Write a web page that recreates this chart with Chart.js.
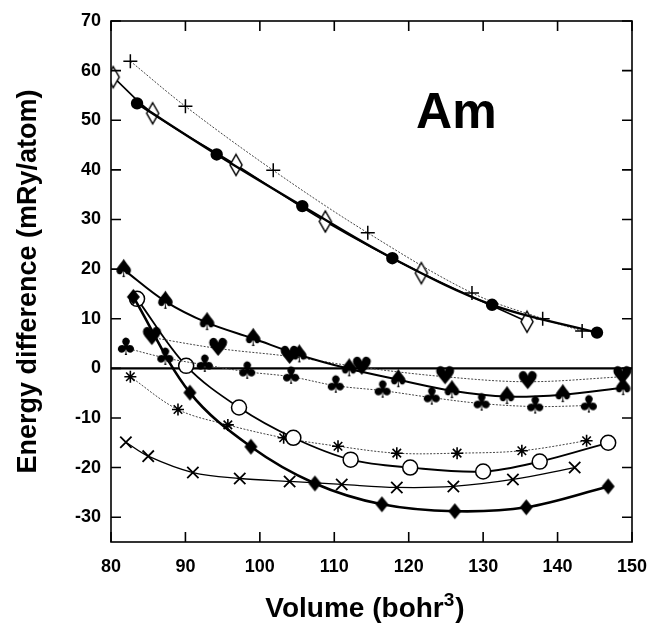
<!DOCTYPE html>
<html>
<head>
<meta charset="utf-8">
<script src="https://cdn.jsdelivr.net/npm/chart.js@4"></script>
<style>
  html, body { margin: 0; padding: 0; background: #fff; }
  canvas { display: block; }
</style>
</head>
<body>
<canvas id="chart" width="650" height="625"></canvas>
<script>
// values
const plusX = [82.6, 90.0, 101.8, 114.5, 128.5, 138.0, 143.3];
const plusY = [61.9, 52.8, 39.9, 27.3, 15.2, 10.0, 7.5];

const dotX = [83.5, 94.2, 105.7, 117.8, 131.2, 145.3];
const dotY = [53.4, 43.1, 32.7, 22.2, 12.8, 7.2];

const openDiaX = [80.3, 85.6, 96.8, 108.8, 121.7, 135.9];
const openDiaY = [58.7, 51.4, 41.0, 29.6, 19.2, 9.4];

const spadeX = [81.7, 87.3, 92.9, 99.1, 105.3, 112.0, 118.6, 125.8, 133.2, 140.7, 148.8];
const spadeY = [19.9, 13.5, 9.2, 6.0, 2.7, -0.1, -2.3, -4.5, -5.7, -5.3, -3.9];

const heartX = [85.5, 94.4, 104.0, 113.7, 124.9, 136.0, 148.7];
const heartY = [6.2, 4.0, 2.4, 0.2, -1.7, -2.7, -1.7];

const clubX = [82.0, 87.3, 92.6, 98.3, 104.2, 110.2, 116.5, 123.1, 129.8, 137.0, 144.2];
const clubY = [4.1, 2.1, 0.7, -0.7, -1.7, -3.5, -4.5, -5.9, -7.1, -7.7, -7.5];

const fillDiaX = [83.0, 90.6, 98.8, 107.4, 116.4, 126.2, 135.8, 146.8];
const fillDiaY = [14.4, -4.9, -15.8, -23.2, -27.4, -28.8, -28.0, -23.8];

const circX = [83.5, 90.1, 97.2, 104.5, 112.2, 120.2, 130.0, 137.6, 146.8];
const circY = [14.0, 0.5, -7.9, -14.0, -18.4, -20.0, -20.8, -18.8, -15.0];

const starX = [82.6, 89.0, 95.7, 103.2, 110.5, 118.4, 126.5, 135.2, 143.9];
const starY = [-1.7, -8.3, -11.4, -14.0, -15.7, -17.1, -17.1, -16.6, -14.6];

const crossX = [82.0, 85.0, 91.0, 97.3, 104.0, 111.0, 118.4, 126.0, 134.0, 142.3];
const crossY = [-14.9, -17.7, -21.0, -22.2, -22.8, -23.4, -24.0, -23.8, -22.4, -20.0];

const xTicks = [80, 90, 100, 110, 120, 130, 140, 150];
const yTicks = [70, 60, 50, 40, 30, 20, 10, 0, -10, -20, -30];

const elementLabel = "Am";
const xTitle = ["Volume (bohr", "3", ")"];
const yTitle = "Energy difference (mRy/atom)";

const pts = (xs, ys) => xs.map((x, i) => ({ x, y: ys[i] }));

// marker images
function glyph(ch, size) {
  const c = document.createElement("canvas");
  c.width = size + 4;
  c.height = size + 4;
  const g = c.getContext("2d");
  g.font = `${size}px "DejaVu Sans"`;
  g.textAlign = "center";
  g.textBaseline = "middle";
  g.fillStyle = "#000";
  g.fillText(ch, c.width / 2, c.height / 2 + 1);
  return c;
}

function diamond(w, h, filled) {
  const c = document.createElement("canvas");
  c.width = w + 4;
  c.height = h + 4;
  const g = c.getContext("2d");
  const cx = c.width / 2, cy = c.height / 2;
  g.beginPath();
  g.moveTo(cx, cy - h / 2);
  g.lineTo(cx + w / 2, cy);
  g.lineTo(cx, cy + h / 2);
  g.lineTo(cx - w / 2, cy);
  g.closePath();
  if (filled) {
    g.fillStyle = "#000";
    g.fill();
  } else {
    g.fillStyle = "#fff";
    g.fill();
    g.lineWidth = 1.5;
    g.strokeStyle = "#000";
    g.stroke();
  }
  return c;
}

const thin = { borderColor: "#444", borderWidth: 1, borderDash: [2, 1.5] };

const datasets = [
  { data: pts(dotX, dotY), pointStyle: "circle", pointRadius: 5, pointBackgroundColor: "#000", pointBorderColor: "#000", borderColor: "#000", borderWidth: 2.4 },
  { data: pts(openDiaX, openDiaY), pointStyle: diamond(12, 21, false), borderColor: "#000", borderWidth: 1.6 },
  { data: pts(plusX, plusY), pointStyle: "cross", pointRadius: 7, pointBorderColor: "#000", pointBorderWidth: 1.5, ...thin },
  { data: pts(spadeX, spadeY), pointStyle: glyph("\u2660", 25), borderColor: "#000", borderWidth: 2 },
  { data: pts(heartX, heartY), pointStyle: glyph("\u2665", 25), ...thin },
  { data: pts(clubX, clubY), pointStyle: glyph("\u2663", 24), ...thin },
  { data: pts(fillDiaX, fillDiaY), pointStyle: diamond(13, 16, true), borderColor: "#000", borderWidth: 2.6 },
  { data: pts(circX, circY), pointStyle: "circle", pointRadius: 7.5, pointBackgroundColor: "#fff", pointBorderColor: "#000", pointBorderWidth: 1.5, borderColor: "#000", borderWidth: 1.8 },
  { data: pts(starX, starY), pointStyle: "star", pointRadius: 6, pointBorderColor: "#000", pointBorderWidth: 1.6, ...thin },
  { data: pts(crossX, crossY), pointStyle: "crossRot", pointRadius: 8, pointBorderColor: "#000", pointBorderWidth: 1.8, borderColor: "#000", borderWidth: 1.3 },
];

// frame, inward ticks, zero line, labels
const framePlugin = {
  id: "frame",
  beforeDatasetsDraw(chart) {
    const { ctx, chartArea: a, scales: { y } } = chart;
    ctx.save();
    ctx.strokeStyle = "#000";
    ctx.lineWidth = 2.2;
    const y0 = y.getPixelForValue(0);
    ctx.beginPath();
    ctx.moveTo(a.left, y0);
    ctx.lineTo(a.right, y0);
    ctx.stroke();
    ctx.restore();
  },
  afterDraw(chart) {
    const { ctx, chartArea: a, scales: { x, y } } = chart;
    const len = 10;
    ctx.save();
    ctx.strokeStyle = "#000";
    ctx.lineWidth = 1.6;
    ctx.strokeRect(a.left, a.top, a.right - a.left, a.bottom - a.top);
    ctx.beginPath();
    xTicks.forEach(v => {
      const px = x.getPixelForValue(v);
      ctx.moveTo(px, a.bottom); ctx.lineTo(px, a.bottom - len);
      ctx.moveTo(px, a.top); ctx.lineTo(px, a.top + len);
    });
    yTicks.forEach(v => {
      const py = y.getPixelForValue(v);
      ctx.moveTo(a.left, py); ctx.lineTo(a.left + len, py);
      ctx.moveTo(a.right, py); ctx.lineTo(a.right - len, py);
    });
    ctx.stroke();

    ctx.fillStyle = "#000";
    ctx.font = 'bold 50px "Liberation Sans"';
    ctx.textAlign = "center";
    ctx.textBaseline = "alphabetic";
    ctx.fillText(elementLabel, x.getPixelForValue(126.4), y.getPixelForValue(48.4));

    // x title with superscript
    const big = 'bold 28px "Liberation Sans"';
    const small = 'bold 19px "Liberation Sans"';
    ctx.textAlign = "left";
    ctx.font = big;
    const w1 = ctx.measureText(xTitle[0]).width;
    const w3 = ctx.measureText(xTitle[2]).width;
    ctx.font = small;
    const w2 = ctx.measureText(xTitle[1]).width + 1;
    let tx = 365 - (w1 + w2 + w3) / 2;
    const base = 617;
    ctx.font = big;
    ctx.fillText(xTitle[0], tx, base);
    tx += w1;
    ctx.font = small;
    ctx.fillText(xTitle[1], tx, base - 11);
    tx += w2;
    ctx.font = big;
    ctx.fillText(xTitle[2], tx, base);
    ctx.restore();
  },
};

const tickFont = { family: "Liberation Sans", size: 18, weight: "bold" };

new Chart(document.getElementById("chart"), {
  type: "line",
  data: { datasets },
  options: {
    responsive: false,
    animation: false,
    layout: { padding: { top: 21, right: 18, left: 0, bottom: 0 } },
    elements: {
      line: { tension: 0.35, fill: false },
      point: { radius: 8, hoverRadius: 8 },
    },
    plugins: { legend: { display: false }, tooltip: { enabled: false } },
    scales: {
      x: {
        type: "linear",
        min: 80,
        max: 150,
        afterFit: s => { s.height = 83; s.paddingLeft = 0; s.paddingRight = 0; },
        afterBuildTicks: s => { s.ticks = xTicks.map(v => ({ value: v })); },
        grid: { display: false, drawTicks: false },
        border: { display: false },
        ticks: { color: "#000", font: tickFont, padding: 14, maxRotation: 0 },
      },
      y: {
        type: "linear",
        min: -35,
        max: 70,
        afterFit: s => { s.width = 111; s.paddingTop = 0; s.paddingBottom = 0; },
        afterBuildTicks: s => { s.ticks = yTicks.map(v => ({ value: v })); },
        grid: { display: false, drawTicks: false },
        border: { display: false },
        ticks: { color: "#000", font: tickFont, padding: 10 },
        title: {
          display: true,
          text: yTitle,
          color: "#000",
          font: { family: "Liberation Sans", size: 27, weight: "bold" },
          padding: { top: 12, bottom: 0 },
        },
      },
    },
  },
  plugins: [framePlugin],
});
</script>
</body>
</html>
